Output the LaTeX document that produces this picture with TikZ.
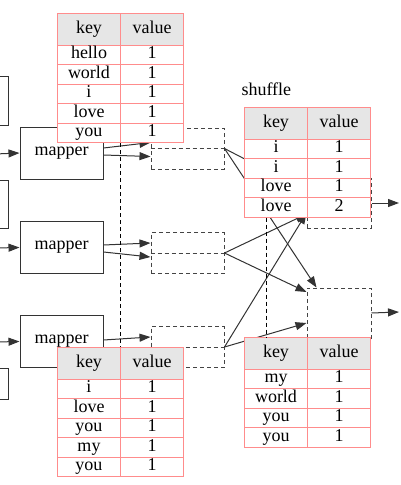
\documentclass[tikz,border=0pt]{standalone}
\usepackage{fontspec}
\setmainfont{Liberation Serif}
\usetikzlibrary{arrows.meta,calc,positioning,matrix}
\definecolor{tabred}{HTML}{FF8C8C}
\definecolor{headgray}{HTML}{E6E6E6}
\definecolor{ink}{HTML}{333333}
\definecolor{dashgray}{HTML}{444444}
\begin{document}
\begin{tikzpicture}[x=1pt,y=-1pt,>={Triangle[length=11pt,width=8pt]},
 font=\fontsize{18}{20}\selectfont,
 mapbox/.style={draw=ink,line width=1pt,fill=white,minimum width=83pt,minimum height=52pt,inner sep=0pt},
 partbox/.style={draw=dashgray,line width=1pt,dash pattern=on 4pt off 3pt,minimum width=73pt,minimum height=41pt,inner sep=0pt},
 redbox/.style={partbox,minimum width=64pt,minimum height=50pt},
 arr/.style={->,draw=ink,line width=1pt},
 dashline/.style={draw=black,line width=.8pt,dash pattern=on 4pt off 3pt},
 kvtab/.style={matrix of nodes,anchor=north west,inner sep=0pt,outer sep=0pt,row sep=-1pt,column sep=-1pt,
  nodes={draw=tabred,line width=1pt,fill=white,minimum width=63pt,minimum height=19.5pt,inner sep=0pt,outer sep=0pt,text height=12pt,text depth=4pt},
  row 1/.style={nodes={fill=headgray,minimum height=31.5pt}}}]
 \useasboundingbox(0,0)rectangle(400,485);
 \clip(0,0)rectangle(400,485);
 % inputs
 \node[mapbox,minimum width=40pt,minimum height=49pt](src1)at(-12,100.5){};
 \node[mapbox,minimum width=40pt,minimum height=48pt](src2)at(-12,204){};
 \node[mapbox,minimum width=40pt,minimum height=31pt](src3)at(-12,383.5){};
 \node[mapbox](map1)at(61.5,153){mapper};
 \node[mapbox](map2)at(61.5,247.5){mapper};
 \node[mapbox](map3)at(61.5,341.5){mapper};
 \coordinate(in1)at(-5,154);\coordinate(in2)at(-5,248);\coordinate(in3)at(-5,342);
 \draw[arr](in1)--(map1.west);\draw[arr](in2)--(map2.west);\draw[arr](in3)--(map3.west);
 % partitions and reducers
 \node[partbox](part1)at(187.5,148.5){};
 \node[partbox](part2)at(187.5,253){};
 \node[partbox](part3)at(187.5,347){};
 \foreach \p in {part1,part2,part3}\draw[partbox](\p.west)--(\p.east);
 \node[redbox](red1)at(339,203){};
 \node[redbox](red2)at(339,313){};
 \draw[arr]($(map1.east)+(0,-5)$)--($(part1.west)+(0,-6)$);
 \draw[arr]($(map1.east)+(0,2)$)--($(part1.west)+(0,8)$);
 \draw[arr]($(map2.east)+(0,-2.5)$)--($(part2.west)+(0,-10)$);
 \draw[arr]($(map2.east)+(0,4.5)$)--($(part2.west)+(0,4)$);
 \draw[arr]($(map3.east)+(0,-1.5)$)--($(part3.west)+(0,-10)$);
 \draw[arr](part1.east)--($(red1.west)+(0,-12)$);
 \draw[arr](part1.east)--($(red2.north west)+(10,0)$);
 \draw[arr](part2.east)--($(red1.west)+(0,11)$);
 \draw[arr](part2.east)--($(red2.west)+(0,-21)$);
 \draw[arr](part3.east)--($(red1.west)+(0,10)$);
 \draw[arr](part3.east)--($(red2.west)+(0,10)$);
 \coordinate(out1)at(399,203);\coordinate(out2)at(399,312);
 \draw[arr](red1.east)--(out1);\draw[arr](red2.east)--(out2);
 % tables
 \matrix[kvtab](t1)at(57,13){key&value\\hello&1\\world&1\\i&1\\love&1\\you&1\\};
 \matrix[kvtab](t2)at(57,347){key&value\\i&1\\love&1\\you&1\\my&1\\you&1\\};
 \matrix[kvtab](shuf)at(244,107){key&value\\i&1\\i&1\\love&1\\love&2\\};
 \matrix[kvtab](t4)at(244,337){key&value\\my&1\\world&1\\you&1\\you&1\\};
 \draw[dashline](t1.south)--(t2.north);
 \draw[dashline]($(shuf.south west)+(22,0)$)--($(t4.north west)+(22,0)$);
 \node[anchor=base west](shuflbl)at(238,95){shuffle};
\end{tikzpicture}
\end{document}
